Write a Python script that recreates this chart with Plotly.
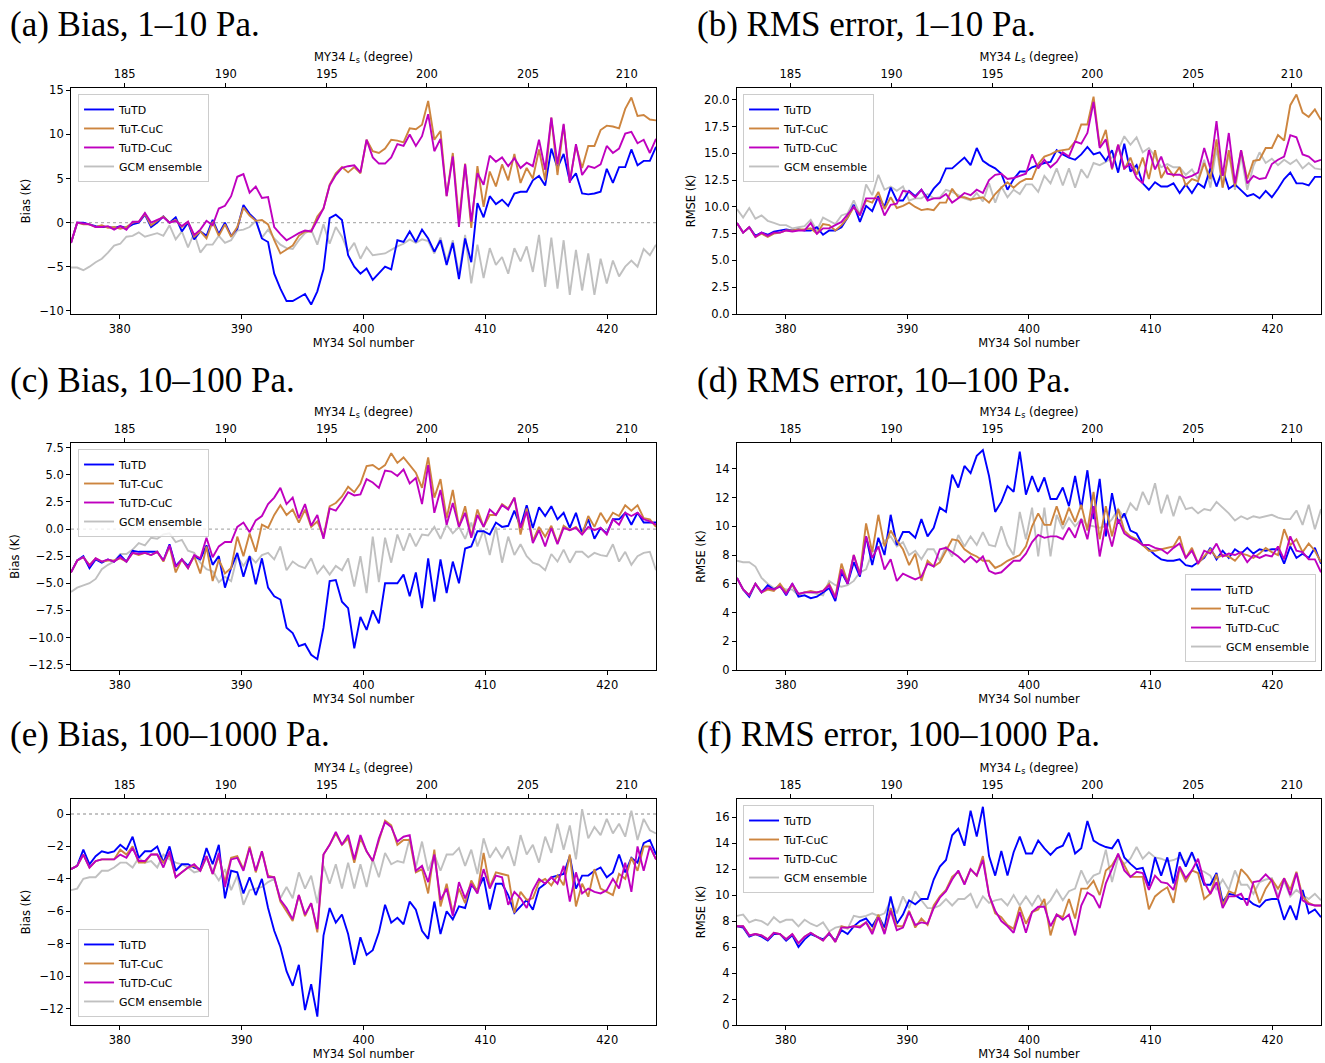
"""
Bias and RMS error of the retrieved temperature against observations,
MY34 sols 376-424, three pressure bands (1-10, 10-100, 100-1000 Pa).
"""
import numpy as np
import plotly.graph_objects as go

# sample grid (sol numbers), evenly spaced from first to last sol
SOL_FIRST = 376.0
SOL_LAST = 424.0
SOL_TICKS = [380, 390, 400, 410, 420]
# top axis: solar longitude ticks, placed at the matching sol
LS_TICK_SOLS = [380.4, 388.7, 397.0, 405.2, 413.5, 421.6]
LS_TICK_LABELS = ['185', '190', '195', '200', '205', '210']

SERIES_NAMES = ['TuTD', 'TuT-CuC', 'TuTD-CuC', 'GCM ensemble']
SERIES_COLORS = ['#0000ff', '#cd853f', '#bf00bf', '#c0c0c0']

# (a) bias, 1-10 Pa
A_TUTD = [-2.3, 0.0, 0.0, -0.2, -0.4, -0.5, -0.5, -0.6, -0.4, -0.6,
          -0.2, 0.0, 0.9, -0.5, 0.0, 0.7, 0.0, 0.6, -1.0, 0.0,
          -1.9, -1.0, -1.5, 0.3, -1.3, 0.0, -1.5, -0.7, 2.0, 1.0,
          0.3, -1.8, -2.2, -5.8, -7.5, -8.9, -8.9, -8.5, -8.1, -9.3,
          -7.8, -5.3, 0.5, 0.9, 0.3, -3.7, -5.0, -5.8,
          -5.2, -6.5, -5.8, -5.0, -5.3, -2.0, -2.2, -1.0, -2.2, -0.8,
          -1.8, -3.3, -2.0, -4.8, -2.3, -6.4, -1.8, -4.5, 2.2, 0.6,
          3.0, 2.1, 2.6, 1.9, 3.3, 3.5, 3.5, 4.8, 5.3, 4.2,
          8.4, 6.2, 7.8, 4.7, 5.6, 3.3, 3.2, 3.3, 3.5, 6.1,
          4.5, 6.3, 6.3, 8.3, 6.5, 7.0, 7.0, 8.6]
A_TUT_CUC = [-2.3, 0.0, -0.2, -0.2, -0.5, -0.3, -0.6, -0.5, -0.7, -0.5,
             0.0, 0.1, 1.0, -0.3, 0.2, 0.7, 0.0, 0.3, -0.5, 0.1,
             -1.6, -1.0, -1.8, 0.1, -1.5, -0.2, -1.6, -0.5, 1.7, 0.8,
             0.2, 0.3, -0.2, -2.0, -3.5, -3.0, -2.6, -1.5, -1.0, -1.0,
             0.7, 1.6, 4.3, 5.6, 6.3, 5.7, 6.3, 5.6,
             9.4, 8.1, 7.9, 8.4, 9.4, 9.3, 9.1, 10.7, 10.6, 11.1,
             13.8, 9.4, 10.4, 3.0, 7.9, 0.3, 6.7, -0.6, 6.4, 1.8,
             5.8, 4.1, 6.6, 4.8, 7.8, 4.5, 6.2, 5.0, 8.3, 4.8,
             11.9, 5.4, 11.1, 4.7, 8.7, 6.2, 8.7, 8.7, 10.5, 11.0,
             10.9, 10.7, 12.9, 14.2, 12.1, 12.2, 11.7, 11.6]
A_TUTD_CUC = [-2.3, 0.0, -0.1, -0.2, -0.5, -0.5, -0.4, -0.8, -0.4, -0.8,
              0.1, 0.1, 1.1, 0.0, 0.3, 0.6, 0.0, 0.2, -0.4, 0.1,
              -1.4, -0.8, 0.2, -0.3, 1.6, 1.9, 3.0, 5.2, 5.5, 3.4,
              4.1, 2.8, 2.9, -0.5, -1.3, -2.0, -1.6, -1.2, -0.9, -1.0,
              0.3, 1.6, 4.2, 5.4, 6.2, 6.4, 6.5, 5.7,
              9.4, 7.4, 6.7, 6.7, 7.4, 8.9, 8.7, 10.0, 8.7, 9.8,
              12.3, 8.1, 9.5, 3.0, 7.5, -0.5, 6.6, 0.1, 5.6, 4.3,
              7.6, 6.9, 7.4, 6.4, 7.3, 6.2, 6.8, 6.4, 9.4, 6.0,
              11.9, 6.6, 11.2, 4.5, 8.9, 5.4, 6.4, 6.2, 6.6, 8.7,
              7.9, 8.4, 10.1, 10.3, 9.0, 9.4, 7.9, 9.5]
A_GCM = [-5.1, -5.1, -5.4, -5.0, -4.5, -4.1, -3.4, -2.6, -2.4, -1.6,
         -1.5, -1.1, -1.6, -1.4, -1.2, -1.5, -0.3, -1.9, -1.0, -2.8,
         -1.2, -3.4, -2.5, -2.5, -1.5, -2.3, -2.0, -0.9, -0.8, -0.5,
         0.2, -1.7, -0.8, -1.8, -2.5, -2.9, -3.0, -2.0, -1.2, -0.8,
         -2.5, -0.2, -2.4, -0.5, -1.6, -3.3, -2.3, -4.1,
         -2.8, -3.7, -3.6, -3.5, -3.1, -2.7, -2.4, -1.9, -2.3, -1.9,
         -2.1, -3.5, -1.7, -4.4, -2.0, -5.9, -1.4, -6.9, -2.5, -6.3,
         -2.9, -4.8, -3.9, -5.8, -2.9, -4.4, -2.7, -5.6, -1.4, -7.3,
         -1.7, -7.5, -2.0, -8.2, -3.1, -7.7, -3.5, -8.2, -4.1, -6.9,
         -4.3, -6.1, -5.0, -4.3, -5.0, -3.0, -3.7, -2.5]

# (b) RMSE, 1-10 Pa
B_TUTD = [8.5, 7.6, 8.1, 7.3, 7.6, 7.4, 7.7, 7.8, 7.9, 7.8,
          7.9, 7.8, 7.8, 8.1, 7.4, 7.8, 7.8, 8.1, 9.0, 10.2,
          8.6, 10.1, 9.6, 11.0, 10.0, 11.8, 10.6, 10.6, 11.5, 11.0,
          11.6, 10.8, 11.7, 12.3, 13.6, 13.6, 14.1, 14.6, 13.9, 15.5,
          14.3, 13.9,
          13.6, 13.1, 11.6, 12.6, 13.3, 13.3, 13.7, 13.9, 14.1, 14.2,
          15.3, 14.9, 14.6, 14.4, 14.9, 15.6, 14.9, 15.1, 14.3, 15.3,
          13.2, 15.9, 13.3, 13.9, 12.2, 11.6, 12.3, 11.9, 11.9, 12.2,
          11.3, 12.1, 11.3, 12.2, 11.8, 13.6, 11.9, 13.5, 11.7, 12.1,
          11.5, 11.0, 11.2, 10.8, 11.5, 10.9, 11.7, 12.6, 13.2, 12.2,
          12.2, 12.0, 12.8, 12.8]
B_TUT_CUC = [8.5, 7.6, 8.1, 7.2, 7.5, 7.2, 7.5, 7.6, 7.8, 7.8,
             7.9, 7.9, 8.0, 7.5, 8.4, 8.3, 7.8, 8.3, 9.0, 10.0,
             9.3, 10.6, 10.4, 11.4, 9.8, 10.9, 9.9, 10.1, 10.4, 10.0,
             9.7, 9.8, 9.7, 10.4, 10.4, 11.7, 10.9, 10.9, 10.7, 10.8,
             10.9, 10.4,
             11.2, 11.8, 12.3, 11.8, 12.3, 12.6, 12.6,
             14.0, 14.7, 14.9, 15.2, 15.3, 15.4, 16.1, 17.7, 17.7, 20.3,
             15.7, 17.2, 13.5, 15.8, 13.5, 14.6, 13.0, 14.6, 12.6, 15.3,
             12.7, 13.7, 12.9, 13.7, 12.0, 12.6, 12.4, 14.1, 12.6, 16.3,
             11.8, 15.3, 11.9, 15.3, 12.6, 14.3, 14.4, 15.5, 15.5, 16.7,
             16.2, 19.5, 20.5, 18.8, 18.4, 19.1, 18.1]
B_TUTD_CUC = [8.5, 7.6, 8.1, 7.2, 7.6, 7.3, 7.6, 7.6, 7.8, 7.7,
              7.8, 7.8, 8.5, 7.5, 8.0, 8.0, 8.3, 8.6, 9.3, 10.0,
              9.2, 10.8, 10.8, 10.8, 9.2, 10.2, 10.3, 11.5, 11.4, 10.9,
              11.6, 10.6, 10.8, 10.8, 11.2, 10.4, 10.8, 11.3, 11.1, 11.6,
              11.3, 12.5,
              13.0, 13.1, 12.6, 12.7, 12.9, 13.1, 14.9, 13.6, 14.4, 13.7,
              14.2, 15.1, 14.7, 16.1, 15.9, 16.9, 19.8, 15.5, 16.3, 13.6,
              15.8, 13.6, 14.0, 12.7, 12.2, 15.3, 13.5, 14.7, 13.1, 13.0,
              13.0, 12.7, 12.9, 13.2, 15.5, 13.6, 18.0, 12.9, 16.9, 12.2,
              15.3, 12.2, 12.9, 12.6, 12.7, 14.0, 14.4, 14.7, 16.7, 16.5,
              14.9, 14.7, 14.2, 14.4]
B_GCM = [9.8, 9.0, 9.9, 8.9, 9.2, 8.7, 8.5, 8.3, 8.3, 8.0,
         8.1, 8.2, 8.8, 7.8, 9.0, 8.7, 8.4, 9.2, 9.4, 10.6,
         9.3, 12.1, 11.1, 13.0, 11.6, 11.9, 11.5, 11.9, 10.6, 10.8,
         10.8, 11.2, 10.8, 10.9, 11.6, 11.4, 11.1, 10.8, 10.6, 11.3,
         10.5, 12.2,
         10.4, 11.9, 10.9, 11.6, 11.2, 12.1, 12.1, 11.4, 12.9, 12.2,
         13.6, 12.0, 13.6, 11.8, 13.5, 12.7, 14.1, 13.9, 14.2, 14.6,
         15.3, 16.6, 15.8, 16.5, 15.1, 15.5, 14.7, 13.7, 14.0, 13.7,
         13.7, 13.0, 13.5, 12.6, 14.4, 11.8, 15.5, 11.8, 15.0, 11.6,
         14.8, 11.6, 13.8, 15.1, 14.1, 14.5, 13.9, 14.4, 14.0, 14.4,
         13.6, 14.1, 13.6, 13.5]

# (c) bias, 10-100 Pa
C_TUTD = [-4.0, -2.9, -2.5, -3.6, -2.8, -3.1, -2.8, -3.0, -2.4, -3.0,
          -2.0, -2.1, -2.1, -2.1, -2.1, -2.9, -1.4, -3.4, -2.8, -3.4,
          -2.5, -2.8, -1.5, -3.3, -2.5, -5.4, -3.6, -2.2, -4.4, -2.5,
          -5.1, -2.7, -5.4, -6.2, -6.5, -9.1, -9.6, -10.8, -10.6, -11.6,
          -12.0, -9.1, -4.8, -4.7, -6.7, -7.3, -11.0, -8.1,
          -9.3, -7.5, -8.7, -5.0, -5.0, -5.0, -4.2, -6.2, -4.0, -7.3,
          -2.7, -6.7, -2.8, -5.9, -3.0, -5.0, -1.8, -1.6, -0.2, -0.2,
          -0.5, 0.6, 0.2, 0.3, 1.7, 0.2, 2.2, 0.1, 2.0, 1.2,
          2.1, 0.9, 1.5, 0.1, 1.5, -0.4, 0.9, -0.9, 0.1, -0.4,
          0.9, 0.9, 1.5, 0.4, 1.5, 0.6, 0.6, 0.6]
C_TUT_CUC = [-4.0, -2.9, -2.6, -3.3, -2.7, -3.0, -2.9, -2.9, -2.7, -3.0,
             -2.2, -2.4, -2.2, -2.4, -2.1, -3.0, -1.6, -4.0, -2.8, -3.6,
             -2.5, -4.1, -1.6, -4.8, -2.8, -4.1, -3.6, -0.7, -2.5, -0.4,
             -2.1, 0.4, 0.1, 1.3, 2.2, 1.3, 1.8, 0.6, 1.8, 0.2,
             0.7, -0.7, 2.1, 2.4, 3.0, 3.9, 3.4, 4.2,
             5.8, 5.9, 5.5, 5.9, 7.0, 6.1, 6.6, 5.9, 5.2, 3.8,
             6.6, 2.9, 4.6, 1.0, 3.6, 0.2, 2.1, -0.7, 1.8, 0.2,
             1.3, 1.3, 2.3, 1.9, 2.9, -0.5, 1.9, -1.1, 0.2, -0.7,
             0.3, -1.3, 0.3, -0.1, 0.2, -0.5, 1.2, 0.2, 1.5, 0.6,
             1.5, 1.2, 2.2, 1.7, 2.2, 1.0, 0.9, 0.2]
C_TUTD_CUC = [-4.0, -2.9, -2.6, -3.4, -2.7, -3.0, -2.8, -3.0, -2.6, -3.0,
              -2.2, -2.3, -2.2, -2.4, -2.1, -2.9, -1.5, -3.5, -2.8, -3.6,
              -2.4, -2.7, -0.8, -2.6, -1.6, -1.2, -1.2, 0.2, 0.6, -0.3,
              0.8, 1.2, 2.3, 2.9, 3.8, 2.3, 2.9, 1.0, 2.3, 0.3,
              1.3, -0.9, 1.9, 1.7, 2.5, 3.4, 3.1, 3.2,
              4.6, 4.3, 3.8, 5.4, 5.3, 4.9, 5.5, 4.2, 4.7, 2.3,
              5.9, 1.5, 3.6, 0.4, 2.4, 0.2, 1.5, -0.8, 1.3, 0.2,
              1.8, 1.3, 2.2, 1.8, 2.9, 0.1, 1.6, -1.3, -0.1, -1.6,
              0.1, -1.4, 0.1, -0.1, 0.1, -0.5, 0.2, -0.1, 0.1, -0.5,
              0.9, 0.4, 1.5, 1.2, 1.5, 0.9, 0.7, 0.4]
C_GCM = [-5.8, -5.4, -5.2, -5.0, -4.6, -3.7, -3.3, -3.0, -2.3, -2.3,
         -1.9, -1.3, -1.5, -0.8, -0.9, -0.5, -0.4, -1.2, -1.0, -2.0,
         -2.2, -3.1, -3.7, -3.9, -4.9, -4.4, -4.8, -2.5, -3.4, -2.5,
         -3.1, -2.4, -2.2, -2.8, -1.6, -3.8, -3.0, -3.4, -3.6, -2.7,
         -4.1, -3.4, -4.2, -3.4, -3.8, -2.7, -5.3, -2.5,
         -5.9, -0.7, -4.9, -0.8, -3.1, -0.5, -2.0, -0.4, -1.6, -0.5,
         -0.6, 0.2, -0.9, 0.4, -0.4, 0.2, -0.9, 0.6, -1.6, -0.1,
         -2.4, 0.2, -3.1, -0.7, -2.4, -1.4, -2.5, -3.1, -3.3, -3.8,
         -2.3, -3.0, -1.9, -3.1, -2.1, -2.1, -2.6, -2.2, -2.4, -2.5,
         -1.4, -3.0, -2.1, -3.3, -2.5, -2.2, -2.1, -3.8]

# (d) RMSE, 10-100 Pa
D_TUTD = [6.4, 5.6, 5.1, 6.0, 5.4, 5.9, 5.6, 5.9, 5.2, 6.0,
          5.1, 5.2, 5.0, 5.1, 5.4, 5.7, 4.8, 6.8, 6.0, 7.5,
          6.5, 9.3, 7.3, 9.2, 8.0, 10.8, 8.7, 9.6, 9.6, 9.2,
          10.5, 9.3, 9.9, 11.3, 11.0, 13.6, 12.7, 14.2, 13.7, 14.9,
          15.3, 13.5,
          11.0, 11.7, 12.8, 12.4, 15.2, 12.2, 13.5, 12.4, 13.4, 11.9,
          11.9, 12.7, 11.4, 13.5, 11.2, 13.9, 10.5, 13.3, 9.3, 12.3,
          10.2, 10.9, 9.7, 9.5, 8.7, 8.4, 8.0, 7.7, 7.6, 7.6,
          7.7, 7.3, 7.2, 7.5, 7.8, 8.5, 7.7, 8.3, 7.8, 8.4,
          8.1, 8.5, 8.1, 8.4, 8.3, 8.4, 8.4, 7.4, 8.6, 7.8,
          8.1, 7.8, 8.5, 7.4]
D_TUT_CUC = [6.4, 5.6, 5.2, 6.0, 5.4, 5.6, 5.5, 6.0, 5.4, 5.9,
             5.3, 5.4, 5.5, 5.4, 5.5, 6.0, 5.1, 7.4, 6.1, 8.0,
             6.7, 10.2, 8.2, 10.8, 8.6, 9.7, 9.0, 8.4, 7.3, 8.1,
             6.2, 7.6, 7.2, 7.5, 8.3, 9.1, 9.0, 8.4, 8.1, 7.9,
             7.6, 7.6,
             7.1, 7.3, 7.6, 7.8, 8.0, 8.6, 10.0, 10.9, 10.1, 10.1,
             11.4, 10.1, 11.3, 10.3, 11.5, 9.7, 12.4, 9.1, 11.4, 9.3,
             11.2, 9.7, 9.3, 9.1, 8.7, 8.3, 8.3, 8.4, 8.5, 8.6,
             9.3, 7.8, 8.5, 7.4, 7.9, 8.4, 7.8, 8.0, 7.9, 7.6,
             8.1, 8.0, 7.8, 8.1, 8.5, 8.2, 8.0, 9.8, 8.7, 9.1,
             8.2, 8.8, 8.3, 7.5]
D_TUTD_CUC = [6.4, 5.6, 5.2, 6.0, 5.4, 5.7, 5.6, 5.8, 5.3, 6.0,
              5.3, 5.4, 5.4, 5.4, 5.5, 5.9, 5.0, 7.0, 6.0, 8.0,
              6.6, 9.3, 7.8, 8.6, 7.0, 7.7, 6.2, 6.7, 6.5, 6.3,
              6.5, 7.4, 7.2, 8.4, 8.5, 8.2, 7.9, 7.5, 7.9, 7.5,
              7.9, 6.9,
              6.7, 6.8, 7.2, 7.6, 7.6, 8.1, 8.9, 9.4, 9.2, 9.3,
              9.3, 9.1, 9.9, 9.2, 10.5, 9.1, 11.4, 7.9, 10.2, 8.6,
              10.5, 9.5, 9.2, 9.0, 8.7, 8.7, 8.5, 8.4, 8.1, 8.5,
              8.8, 7.8, 8.3, 7.4, 8.3, 8.1, 8.8, 7.9, 8.1, 8.0,
              8.2, 7.5, 8.0, 7.8, 8.0, 7.9, 8.6, 7.7, 9.3, 8.3,
              8.2, 7.7, 7.7, 6.8]
D_GCM = [7.6, 7.5, 7.5, 7.2, 6.4, 6.0, 5.7, 5.8, 5.6, 5.6,
         5.2, 5.4, 5.4, 5.3, 5.2, 6.2, 5.9, 5.8, 5.9, 6.2,
         6.8, 7.0, 8.2, 8.5, 9.0, 9.3, 8.6, 8.9, 8.0, 8.3,
         7.7, 8.4, 8.4, 7.6, 8.6, 7.9, 9.4, 8.6, 9.3, 8.7,
         9.6, 8.7,
         8.6, 10.0, 8.7, 8.0, 11.0, 9.1, 11.3, 7.9, 11.3, 7.9,
         10.8, 9.8, 10.6, 10.0, 10.5, 10.1, 10.0, 9.9, 10.0, 10.5,
         11.2, 10.6, 11.6, 11.1, 12.4, 11.5, 13.0, 10.9, 12.2, 10.7,
         12.1, 11.2, 11.3, 10.9, 11.2, 11.1, 11.7, 11.3, 10.9, 10.4,
         10.7, 10.5, 10.7, 10.6, 10.7, 10.8, 10.6, 10.5, 10.5, 11.1,
         10.1, 11.5, 9.8, 11.2]

# (e) bias, 100-1000 Pa
E_TUTD = [-3.4, -3.2, -2.2, -3.1, -2.6, -2.3, -2.4, -2.3, -1.9, -2.2,
          -1.4, -2.7, -2.3, -2.3, -2.0, -3.0, -2.0, -3.5, -3.1, -3.1,
          -3.3, -3.4, -2.1, -3.1, -1.9, -5.2, -3.5, -3.6, -4.9, -3.9,
          -5.0, -4.0, -5.8, -7.2, -8.2, -9.7, -10.6, -9.3, -12.1, -10.5,
          -12.5, -7.5, -5.8, -6.7, -6.2, -7.4, -9.3, -7.6,
          -8.7, -8.4, -7.3, -5.6, -6.7, -6.4, -6.8, -5.4, -5.9, -7.2,
          -7.7, -5.4, -7.4, -6.0, -6.5, -5.7, -5.8, -4.4, -4.7, -3.9,
          -5.9, -4.3, -4.3, -5.0, -6.1, -5.7, -5.3, -5.9, -4.6, -4.3,
          -3.9, -3.8, -3.7, -2.6, -4.6, -3.8, -3.8, -3.5, -3.3, -3.9,
          -3.6, -2.5, -3.6, -2.7, -3.0, -1.8, -1.6, -2.5]
E_TUT_CUC = [-3.4, -3.2, -2.5, -3.3, -2.9, -2.8, -2.8, -2.8, -2.2, -2.5,
             -2.0, -3.0, -3.0, -2.5, -2.5, -3.0, -2.5, -3.9, -3.6, -3.3,
             -3.2, -3.5, -2.6, -3.7, -2.6, -4.2, -2.7, -2.6, -3.4, -2.0,
             -3.6, -2.3, -3.8, -3.9, -5.4, -6.0, -6.6, -5.0, -6.3, -5.5,
             -7.3, -2.5, -1.9, -1.2, -1.9, -1.5, -3.0, -1.5,
             -2.3, -2.9, -1.6, -0.4, -0.7, -1.9, -1.6, -1.6, -3.6, -3.4,
             -4.9, -2.2, -5.7, -4.3, -6.1, -4.6, -5.5, -4.1, -4.8, -2.4,
             -4.5, -3.6, -3.7, -3.8, -6.1, -4.8, -5.3, -5.2, -4.2, -4.0,
             -4.4, -3.8, -4.4, -2.5, -5.7, -4.3, -5.1, -3.4, -4.6, -4.8,
             -5.0, -3.7, -4.0, -2.7, -3.5, -2.0, -2.0, -2.8]
E_TUTD_CUC = [-3.4, -3.2, -2.5, -3.3, -2.9, -2.8, -2.8, -2.8, -2.5, -2.7,
              -2.1, -2.9, -2.9, -2.5, -2.5, -3.3, -2.3, -3.9, -3.6, -3.3,
              -3.1, -3.5, -2.6, -3.7, -2.4, -4.5, -2.8, -2.7, -3.5, -2.1,
              -3.5, -2.3, -3.9, -3.9, -5.3, -5.8, -6.5, -5.0, -6.2, -5.5,
              -7.1, -2.5, -1.9, -1.1, -1.9, -1.3, -2.8, -1.3,
              -2.3, -2.9, -1.5, -0.5, -0.8, -1.7, -1.4, -1.3, -3.5, -3.2,
              -4.2, -2.5, -5.3, -4.6, -6.3, -4.2, -5.2, -4.3, -4.9, -3.4,
              -4.6, -3.8, -3.9, -5.6, -4.8, -5.2, -5.8, -4.7, -4.0, -4.3,
              -3.9, -4.3, -3.2, -5.4, -3.6, -4.9, -4.6, -4.8, -4.9, -4.7,
              -4.0, -4.6, -3.0, -4.8, -2.0, -3.5, -2.0, -2.8]
E_GCM = [-4.7, -4.6, -4.0, -3.9, -3.9, -3.5, -3.5, -3.3, -3.0, -3.0,
         -3.3, -2.7, -3.0, -2.9, -3.3, -2.5, -2.8, -3.0, -3.1, -3.3,
         -3.6, -3.5, -2.7, -3.5, -4.1, -3.4, -4.7, -3.8, -5.6, -4.7,
         -4.6, -4.5, -4.2, -4.0, -5.2, -4.5, -5.2, -3.6, -4.6, -3.8,
         -5.5, -3.2, -4.3, -3.1, -4.6, -3.0, -4.6, -3.1,
         -4.5, -2.8, -3.9, -2.4, -3.1, -2.9, -3.0, -1.5, -3.3, -1.7,
         -3.5, -2.5, -3.5, -2.5, -2.5, -2.1, -3.2, -2.2, -3.7, -1.5,
         -2.7, -2.1, -2.7, -2.0, -3.2, -1.3, -2.5, -1.9, -3.0, -1.4,
         -2.4, -0.6, -2.2, -0.7, -2.8, 0.3, -1.5, -0.8, -1.3, -0.3,
         -1.2, -0.6, -1.4, 0.2, -1.6, -0.3, -1.0, -1.2]

# (f) RMSE, 100-1000 Pa
F_TUTD = [7.6, 7.5, 6.8, 7.0, 6.8, 6.5, 7.0, 7.0, 6.5, 6.9,
          6.0, 6.6, 7.0, 6.8, 6.6, 7.0, 6.5, 7.3, 7.0, 7.6,
          8.0, 8.2, 7.6, 8.4, 7.5, 9.9, 7.8, 8.5, 9.6, 9.3,
          9.7, 9.7, 11.2, 12.2, 12.7, 14.6, 15.1, 13.8, 16.5, 14.5,
          16.8, 13.0,
          11.5, 13.4, 11.5, 13.3, 14.5, 13.2, 13.2, 14.2, 13.6, 13.1,
          13.6, 13.8, 14.8, 13.2, 13.6, 15.7, 14.2, 13.9, 13.7, 13.6,
          14.3, 12.9, 12.4, 12.0, 12.1, 10.7, 12.9, 11.5, 12.9, 10.9,
          13.3, 12.2, 13.3, 12.1, 10.8, 10.8, 11.7, 9.5, 10.1, 10.0,
          9.7, 9.7, 9.3, 9.1, 9.6, 9.7, 9.7, 8.1, 9.2, 8.1,
          10.4, 8.6, 8.9, 8.3]
F_TUT_CUC = [7.6, 7.6, 6.9, 7.0, 6.9, 6.6, 7.1, 7.0, 6.6, 7.0,
             6.3, 6.8, 7.1, 6.8, 6.5, 7.1, 6.4, 7.6, 7.5, 7.6,
             7.6, 7.9, 7.2, 8.5, 7.1, 9.0, 7.6, 7.6, 8.8, 7.5,
             8.2, 7.7, 9.2, 9.9, 10.4, 11.4, 11.8, 10.9, 12.0, 11.5,
             13.0, 10.0,
             8.6, 8.3, 7.7, 7.4, 9.1, 7.8, 8.7, 8.9, 9.7, 6.9,
             8.5, 8.3, 9.7, 8.2, 10.5, 10.5, 11.1, 10.0, 11.9, 12.3,
             13.1, 12.3, 11.4, 11.4, 11.4, 8.9, 9.9, 10.3, 10.6, 9.4,
             12.1, 11.0, 11.9, 11.7, 9.7, 10.1, 11.6, 9.2, 10.3, 10.1,
             12.0, 11.5, 10.8, 9.4, 10.5, 11.2, 10.5, 11.3, 10.4, 11.8,
             9.9, 9.4, 9.2, 9.2]
F_TUTD_CUC = [7.6, 7.6, 6.9, 7.0, 6.9, 6.6, 7.1, 7.0, 6.6, 7.0,
              6.3, 6.8, 7.1, 6.8, 6.5, 7.1, 6.4, 7.5, 7.5, 7.6,
              7.5, 7.9, 7.0, 8.3, 7.0, 8.8, 7.3, 7.5, 8.7, 7.7,
              7.9, 7.8, 9.0, 9.8, 10.3, 11.2, 11.9, 10.8, 12.0, 11.5,
              12.7, 10.0,
              8.8, 8.0, 7.6, 7.1, 8.7, 7.1, 8.7, 9.1, 9.1, 7.6,
              8.5, 8.1, 8.5, 6.9, 9.2, 10.2, 9.9, 9.0, 10.9, 12.0,
              13.2, 11.9, 11.4, 11.8, 11.7, 10.4, 11.5, 11.0, 10.9, 10.4,
              12.2, 11.3, 11.9, 12.8, 11.0, 10.1, 11.0, 9.0, 9.9, 9.9,
              10.1, 9.2, 11.0, 11.1, 11.6, 11.1, 9.7, 11.3, 10.0, 11.7,
              9.6, 9.3, 9.2, 9.2]
F_GCM = [8.4, 8.5, 7.9, 8.1, 8.0, 7.7, 8.3, 7.9, 8.1, 8.1,
         7.6, 8.1, 7.8, 7.6, 7.9, 7.2, 7.5, 7.6, 7.4, 8.4,
         8.3, 8.4, 8.6, 8.4, 8.6, 9.6, 8.6, 9.9, 9.0, 10.3,
         9.6, 9.0, 9.0, 9.2, 9.7, 9.2, 9.7, 9.7, 10.1, 9.0,
         9.9, 9.4,
         9.6, 9.7, 9.2, 10.0, 9.2, 9.9, 9.2, 10.0, 9.1, 9.6,
         10.4, 9.6, 10.3, 10.5, 11.9, 10.9, 11.5, 11.7, 13.5, 11.0,
         12.9, 12.4, 12.8, 13.7, 12.8, 13.3, 12.9, 12.8, 12.6, 12.7,
         12.9, 12.5, 13.2, 12.0, 11.8, 11.5, 10.4, 11.2, 10.4, 11.9,
         10.8, 10.8, 10.1, 11.0, 11.2, 11.3, 9.9, 11.1, 9.9, 10.4,
         10.0, 9.7, 10.1, 9.6]

W, H = 1325, 1063
FONT = 'DejaVu Sans'
TITLE_FONT = 'Liberation Serif'

COL_X = [(0.0536, 0.4951), (0.5562, 0.9970)]
ROW_Y = [(0.7046, 0.9172), (0.3697, 0.5833), (0.0357, 0.2484)]
TITLE_X = [0.006, 0.5245]
TITLE_Y = [0.9765, 0.6425, 0.3086]

PANELS = [
    dict(title='(a) Bias, 1–10 Pa.', data=[A_TUTD, A_TUT_CUC, A_TUTD_CUC, A_GCM],
         row=0, col=0, ylabel='Bias (K)', yrange=[-10.37, 15.27],
         yticks=[-10, -5, 0, 5, 10, 15], fmt='', zero=True,
         legend=dict(x=0.0589, y=0.9116, xanchor='left', yanchor='top')),
    dict(title='(b) RMS error, 1–10 Pa.', data=[B_TUTD, B_TUT_CUC, B_TUTD_CUC, B_GCM],
         row=0, col=1, ylabel='RMSE (K)', yrange=[0, 21.1],
         yticks=[0, 2.5, 5, 7.5, 10, 12.5, 15, 17.5, 20], fmt='.1f', zero=False,
         legend=dict(x=0.5608, y=0.9116, xanchor='left', yanchor='top')),
    dict(title='(c) Bias, 10–100 Pa.', data=[C_TUTD, C_TUT_CUC, C_TUTD_CUC, C_GCM],
         row=1, col=0, ylabel='Bias (K)', yrange=[-13.0, 7.94],
         yticks=[-12.5, -10, -7.5, -5, -2.5, 0, 2.5, 5, 7.5], fmt='.1f', zero=True,
         legend=dict(x=0.0589, y=0.5776, xanchor='left', yanchor='top')),
    dict(title='(d) RMS error, 10–100 Pa.', data=[D_TUTD, D_TUT_CUC, D_TUTD_CUC, D_GCM],
         row=1, col=1, ylabel='RMSE (K)', yrange=[0, 15.8],
         yticks=[0, 2, 4, 6, 8, 10, 12, 14], fmt='', zero=False,
         legend=dict(x=0.9932, y=0.3772, xanchor='right', yanchor='bottom')),
    dict(title='(e) Bias, 100–1000 Pa.', data=[E_TUTD, E_TUT_CUC, E_TUTD_CUC, E_GCM],
         row=2, col=0, ylabel='Bias (K)', yrange=[-13.02, 0.93],
         yticks=[-12, -10, -8, -6, -4, -2, 0], fmt='', zero=True,
         legend=dict(x=0.0589, y=0.0433, xanchor='left', yanchor='bottom')),
    dict(title='(f) RMS error, 100–1000 Pa.', data=[F_TUTD, F_TUT_CUC, F_TUTD_CUC, F_GCM],
         row=2, col=1, ylabel='RMSE (K)', yrange=[0, 17.4],
         yticks=[0, 2, 4, 6, 8, 10, 12, 14, 16], fmt='', zero=False,
         legend=dict(x=0.5608, y=0.2427, xanchor='left', yanchor='top')),
]


def names(n):
    """ axis / legend ids for panel number n (1-based) """
    s = '' if n == 1 else str(n)
    return dict(x='x' + s, y='y' + s, xaxis='xaxis' + s, yaxis='yaxis' + s,
                legend='legend' + s, xtop='x' + str(n + 6), xaxistop='xaxis' + str(n + 6))


def add_panel(fig, n, p) -> None:
    ids = names(n)
    # gray ensemble first so the retrievals sit on top of it
    for k in [3, 0, 1, 2]:
        values = p['data'][k]
        sols = np.linspace(SOL_FIRST, SOL_LAST, len(values))
        fig.add_trace(go.Scatter(
            x=sols, y=values, mode='lines', name=SERIES_NAMES[k],
            line=dict(color=SERIES_COLORS[k], width=1.9),
            xaxis=ids['x'], yaxis=ids['y'], legend=ids['legend'],
            legendrank=k + 1, hoverinfo='skip'))
    # carrier for the top (Ls) axis
    fig.add_trace(go.Scatter(x=[SOL_FIRST, SOL_LAST], y=[None, None], mode='lines',
                             xaxis=ids['xtop'], yaxis=ids['y'], showlegend=False,
                             hoverinfo='skip'))

    x0, x1 = COL_X[p['col']]
    y0, y1 = ROW_Y[p['row']]
    tickfont = dict(family=FONT, size=11.5, color='black')
    fig.update_layout({
        ids['xaxis']: dict(domain=[x0, x1], anchor=ids['y'], range=[SOL_FIRST, SOL_LAST],
                           tickvals=SOL_TICKS, ticks='outside', ticklen=4, tickwidth=1,
                           tickcolor='black', showline=True, linecolor='black', linewidth=1,
                           mirror=True, showgrid=False, zeroline=False, automargin=False,
                           tickfont=tickfont,
                           title=dict(text='MY34 Sol number', standoff=3,
                                      font=dict(family=FONT, size=11.5))),
        ids['xaxistop']: dict(overlaying=ids['x'], side='top', anchor=ids['y'],
                              range=[SOL_FIRST, SOL_LAST], tickvals=LS_TICK_SOLS,
                              ticktext=LS_TICK_LABELS, ticks='outside', ticklen=4,
                              tickwidth=1, tickcolor='black', showline=False,
                              showgrid=False, zeroline=False, automargin=False,
                              tickfont=tickfont,
                              title=dict(text='MY34 <i>L</i><sub>s</sub> (degree)', standoff=3,
                                         font=dict(family=FONT, size=11.5))),
        ids['yaxis']: dict(domain=[y0, y1], anchor=ids['x'], range=p['yrange'],
                           tickvals=p['yticks'], tickformat=p['fmt'], ticks='outside',
                           ticklen=4, tickwidth=1, tickcolor='black', showline=True,
                           linecolor='black', linewidth=1, mirror=True, showgrid=False,
                           zeroline=False, automargin=False, tickfont=tickfont,
                           title=dict(text=p['ylabel'], standoff=6,
                                      font=dict(family=FONT, size=11.5))),
        ids['legend']: dict(p['legend'], bgcolor='rgba(255,255,255,0.8)',
                            bordercolor='#cccccc', borderwidth=1, itemwidth=30,
                            tracegroupgap=0, traceorder='normal',
                            font=dict(family=FONT, size=11, color='black')),
    })

    if p['zero']:
        fig.add_shape(type='line', xref=ids['x'] + ' domain', x0=0, x1=1,
                      yref=ids['y'], y0=0, y1=0, layer='below',
                      line=dict(color='#b0b0b0', width=1.3, dash='dot'))

    fig.add_annotation(text=p['title'], xref='paper', yref='paper',
                       x=TITLE_X[p['col']], y=TITLE_Y[p['row']],
                       xanchor='left', yanchor='middle', showarrow=False,
                       font=dict(family=TITLE_FONT, size=35, color='black'))


def main() -> None:
    fig = go.Figure()
    for n, p in enumerate(PANELS, start=1):
        add_panel(fig, n, p)

    fig.update_layout(width=W, height=H, autosize=False,
                      margin=dict(l=0, r=0, t=0, b=0),
                      paper_bgcolor='white', plot_bgcolor='white',
                      font=dict(family=FONT, size=11.5, color='black'))
    # drop the page's default body margin so the figure sits at the window corner
    fig.write_html('out.html', config={'displayModeBar': False},
                   post_script="document.body.style.margin='0px';"
                               "document.body.style.overflow='hidden';")


if __name__ == "__main__":
    main()
